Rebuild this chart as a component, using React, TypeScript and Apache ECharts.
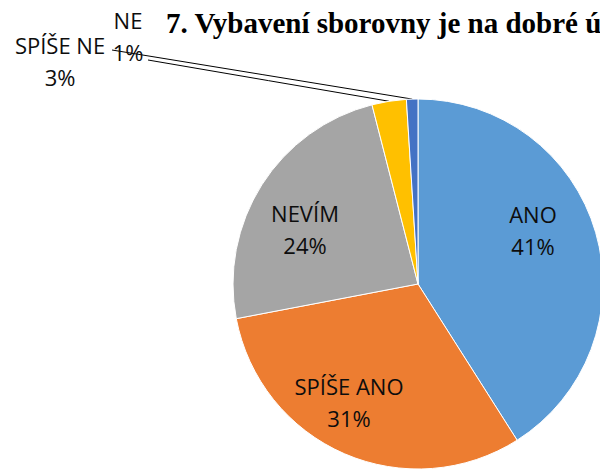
import React, { useEffect, useRef } from "react";
import * as echarts from "echarts";

const categories = ["ANO", "SPÍŠE ANO", "NEVÍM", "SPÍŠE NE", "NE"];
const values = [41, 31, 24, 3, 1];
const colors = ["#5B9BD5", "#ED7D31", "#A5A5A5", "#FFC000", "#4472C4"];
const titleText = "7. Vybavení sborovny je na dobré úrovni";

// label centres in px
const labelPos: Record<string, [number, number]> = {
  "ANO": [533, 230],
  "SPÍŠE ANO": [349, 402],
  "NEVÍM": [305, 229],
  "SPÍŠE NE": [60, 61],
  "NE": [128, 36],
};
// leader line end points in px
const lineEnd: Record<string, [number, number]> = {
  "SPÍŠE NE": [148, 60],
  "NE": [112, 50],
};

export default function App() {
  const ref = useRef<HTMLDivElement>(null);
  useEffect(() => {
    if (!ref.current) return;
    const chart = echarts.init(ref.current, null, { renderer: "svg" });
    const outside = new Set(["SPÍŠE NE", "NE"]);
    chart.setOption({
      animation: false,
      backgroundColor: "#ffffff",
      title: {
        text: titleText,
        left: 161,
        top: 3,
        textStyle: {
          fontFamily: "Liberation Serif",
          fontWeight: "bold",
          fontSize: 29,
          color: "#000000",
        },
      },
      series: [
        {
          type: "pie",
          center: [418, 284],
          radius: [0, 185],
          startAngle: 90,
          clockwise: true,
          avoidLabelOverlap: false,
          itemStyle: { borderColor: "#ffffff", borderWidth: 1 },
          data: categories.map((c, i) => ({
            name: c,
            value: values[i],
            itemStyle: { color: colors[i] },
            label: outside.has(c)
              ? { position: "outside", show: true }
              : { position: "inside", show: true },
            labelLine: { show: outside.has(c), length: 10, length2: 10 },
          })),
          label: {
            formatter: (p: any) => `${p.name}\n${p.value}%`,
            fontFamily: "Open Sans",
            fontSize: 22,
            lineHeight: 32,
            color: "#0d0d0d",
            align: "center",
          },
          labelLine: {
            lineStyle: { color: "#000000", width: 1 },
            smooth: false,
          },
          labelLayout: (params: any) => {
            const name = categories[params.dataIndex];
            const pos = labelPos[name];
            const out: any = {
              x: pos[0],
              y: pos[1],
              align: "center",
              verticalAlign: "middle",
            };
            const end = lineEnd[name];
            if (end && params.labelLinePoints) {
              const s = params.labelLinePoints[0];
              out.labelLinePoints = [
                [s[0], s[1]],
                [(s[0] + end[0]) / 2, (s[1] + end[1]) / 2],
                [end[0], end[1]],
              ];
            }
            return out;
          },
        },
      ],
    });
    return () => chart.dispose();
  }, []);
  return (
    <div
      ref={ref}
      style={{ position: "fixed", left: 0, top: 0, width: 600, height: 470 }}
    />
  );
}
